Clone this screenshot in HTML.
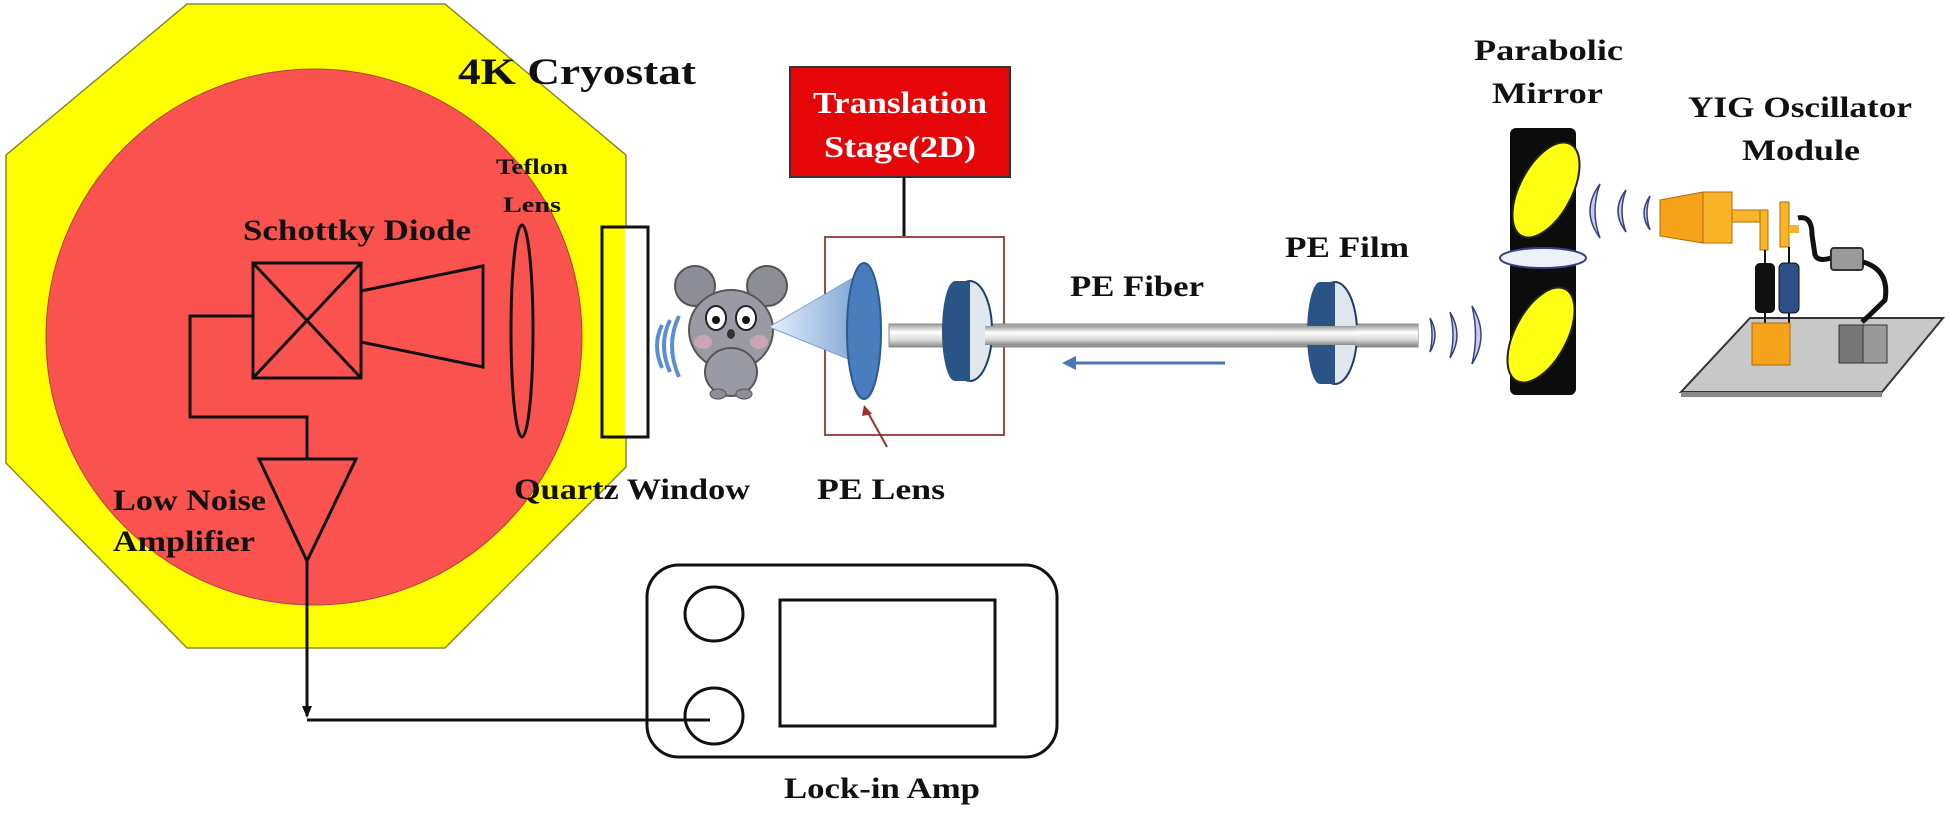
<!DOCTYPE html>
<html><head><meta charset="utf-8"><style>
html,body{margin:0;padding:0;background:#fff;}
svg{display:block;}
text{font-family:"Liberation Serif",serif;font-weight:bold;fill:#111;}
</style></head><body>
<svg width="1950" height="813" viewBox="0 0 1950 813" xmlns="http://www.w3.org/2000/svg">
<defs>
<linearGradient id="rod" x1="0" y1="0" x2="0" y2="1">
<stop offset="0" stop-color="#9a9a9a"/><stop offset="0.35" stop-color="#ffffff"/><stop offset="0.7" stop-color="#d8d8d8"/><stop offset="1" stop-color="#8a8a8a"/>
</linearGradient>
<linearGradient id="cone" x1="0" y1="0" x2="1" y2="0">
<stop offset="0" stop-color="#e8f0fa"/><stop offset="1" stop-color="#7ea6d6"/>
</linearGradient>
</defs>

<!-- Cryostat -->
<polygon points="187,4 445,4 626,155 626,467 445,648 187,648 6,463 6,155" fill="#ffff00" stroke="#8a8a30" stroke-width="1.5"/>
<circle cx="314" cy="337" r="268" fill="#f9524f" stroke="#b04040" stroke-width="1"/>
<text x="458" y="84" font-size="37" textLength="238" lengthAdjust="spacingAndGlyphs">4K Cryostat</text>

<text x="496" y="174" font-size="22" textLength="72" lengthAdjust="spacingAndGlyphs">Teflon</text>
<text x="503" y="212" font-size="22" textLength="58" lengthAdjust="spacingAndGlyphs">Lens</text>
<text x="243" y="240" font-size="30" textLength="228" lengthAdjust="spacingAndGlyphs">Schottky Diode</text>

<g stroke="#111" stroke-width="3" fill="none">
<rect x="253" y="263" width="108" height="115"/>
<line x1="253" y1="263" x2="361" y2="378"/><line x1="361" y1="263" x2="253" y2="378"/>
<polygon points="361,291 483,266 483,367 361,342"/>
<ellipse cx="522" cy="331" rx="11" ry="106"/>
<polyline points="253,316 190,316 190,417 307,417 307,459"/>
<polygon points="259,459 356,459 307,561"/>
<polyline points="307,561 307,716"/>
<polyline points="307,720 710,720"/>
</g>
<polygon points="302,706 312,706 307,718" fill="#111"/>
<rect x="602" y="227" width="46" height="210" fill="#fff" stroke="#111" stroke-width="3"/>
<rect x="602" y="227" width="23" height="210" fill="#ffff00" stroke="none"/>
<rect x="602" y="227" width="46" height="210" fill="none" stroke="#111" stroke-width="3"/>

<text x="113" y="510" font-size="30" textLength="153" lengthAdjust="spacingAndGlyphs">Low Noise</text>
<text x="113" y="551" font-size="30" textLength="142" lengthAdjust="spacingAndGlyphs">Amplifier</text>
<text x="514" y="499" font-size="30" textLength="236" lengthAdjust="spacingAndGlyphs">Quartz Window</text>
<text x="817" y="499" font-size="30" textLength="128" lengthAdjust="spacingAndGlyphs">PE Lens</text>

<!-- Lock-in amp -->
<g stroke="#111" stroke-width="3" fill="none">
<rect x="647" y="565" width="410" height="192" rx="32"/>
<ellipse cx="714" cy="614" rx="29" ry="27"/>
<ellipse cx="714" cy="716" rx="29" ry="28"/>
<rect x="780" y="600" width="215" height="126"/>
</g>
<text x="784" y="798" font-size="30" textLength="196" lengthAdjust="spacingAndGlyphs">Lock-in Amp</text>

<!-- Translation stage -->
<rect x="790" y="67" width="220" height="110" fill="#e5060a" stroke="#333" stroke-width="2"/>
<text x="900" y="113" font-size="31" fill="#fff" style="fill:#fff" text-anchor="middle" textLength="174" lengthAdjust="spacingAndGlyphs">Translation</text>
<text x="900" y="157" font-size="31" style="fill:#fff" text-anchor="middle" textLength="152" lengthAdjust="spacingAndGlyphs">Stage(2D)</text>
<line x1="904" y1="177" x2="904" y2="237" stroke="#111" stroke-width="3"/>
<rect x="825" y="237" width="179" height="198" fill="none" stroke="#9b4a4a" stroke-width="2"/>

<!-- waves near quartz -->
<g fill="none" stroke="#5b8fd0" stroke-width="4">
<path d="M662,325 Q652,345 662,368"/><path d="M670,320 Q658,345 670,372"/><path d="M679,316 Q665,345 679,377"/>
</g>
<!-- koala -->
<g>
<ellipse cx="695" cy="286" rx="20" ry="20" fill="#8d8d98" stroke="#555" stroke-width="2"/>
<ellipse cx="767" cy="286" rx="20" ry="20" fill="#8d8d98" stroke="#555" stroke-width="2"/>
<ellipse cx="731" cy="330" rx="42" ry="40" fill="#9a9aa5" stroke="#555" stroke-width="2"/>
<ellipse cx="731" cy="372" rx="26" ry="24" fill="#9a9aa5" stroke="#555" stroke-width="2"/>
<ellipse cx="716" cy="318" rx="10" ry="12" fill="#fff" stroke="#222" stroke-width="2"/>
<ellipse cx="746" cy="318" rx="10" ry="12" fill="#fff" stroke="#222" stroke-width="2"/>
<circle cx="716" cy="320" r="4" fill="#111"/><circle cx="746" cy="320" r="4" fill="#111"/>
<ellipse cx="731" cy="334" rx="4" ry="5" fill="#333"/>
<ellipse cx="703" cy="342" rx="9" ry="7" fill="#c9a5b5"/><ellipse cx="759" cy="342" rx="9" ry="7" fill="#c9a5b5"/>
<ellipse cx="718" cy="394" rx="8" ry="5" fill="#8d8d98" stroke="#555"/><ellipse cx="744" cy="394" rx="8" ry="5" fill="#8d8d98" stroke="#555"/>
</g>
<!-- cone -->
<polygon points="769,327 858,275 858,363" fill="url(#cone)" stroke="#7aa0d0" stroke-width="1"/>
<!-- PE lens -->
<ellipse cx="864" cy="331" rx="17" ry="68" fill="#4a7dbd" stroke="#2d5a93" stroke-width="2"/>
<line x1="887" y1="447" x2="866" y2="409" stroke="#a03030" stroke-width="2"/>
<polygon points="864,405 872,414 862,416" fill="#a03030"/>

<!-- rod -->
<rect x="889" y="324" width="529" height="23" fill="url(#rod)" stroke="#888" stroke-width="1"/>
<!-- discs -->
<g>
<ellipse cx="970" cy="331" rx="22" ry="50" fill="#dfe6ee" stroke="#1f3f6a" stroke-width="2"/>
<rect x="955" y="281" width="15" height="100" fill="#2b5486"/>
<ellipse cx="955" cy="331" rx="13" ry="50" fill="#2b5486"/>
<ellipse cx="1335" cy="333" rx="22" ry="51" fill="#dfe6ee" stroke="#1f3f6a" stroke-width="2"/>
<rect x="1320" y="282" width="15" height="102" fill="#2b5486"/>
<ellipse cx="1320" cy="333" rx="13" ry="51" fill="#2b5486"/>
</g>
<rect x="985" y="326" width="433" height="19" fill="url(#rod)"/>
<rect x="1356" y="325" width="62" height="21" fill="url(#rod)"/>
<text x="1070" y="296" font-size="30" textLength="134" lengthAdjust="spacingAndGlyphs">PE Fiber</text>
<text x="1285" y="257" font-size="30" textLength="124" lengthAdjust="spacingAndGlyphs">PE Film</text>
<line x1="1072" y1="363" x2="1225" y2="363" stroke="#4a78b4" stroke-width="3"/>
<polygon points="1062,363 1076,356 1076,370" fill="#4a78b4"/>

<!-- waves near lower mirror -->
<g fill="#c9cbe8" stroke="#3a3f86" stroke-width="1.5">
<path d="M1430,318 Q1440,335 1430,352 Q1434,335 1430,318Z"/>
<path d="M1450,312 Q1464,335 1450,358 Q1456,335 1450,312Z"/>
<path d="M1472,306 Q1490,335 1472,364 Q1479,335 1472,306Z"/>
</g>
<!-- mirror post -->
<rect x="1510" y="128" width="66" height="267" rx="6" fill="#0c0c0c"/>
<ellipse cx="1546" cy="190" rx="26" ry="52" transform="rotate(28 1546 190)" fill="#ffff14" stroke="#222" stroke-width="2"/>
<ellipse cx="1541" cy="335" rx="26" ry="52" transform="rotate(28 1541 335)" fill="#ffff14" stroke="#222" stroke-width="2"/>
<ellipse cx="1543" cy="258" rx="43" ry="10" fill="#eef0fa" stroke="#3a3f86" stroke-width="2"/>
<rect x="1510" y="246" width="0" height="0"/>
<text x="1474" y="60" font-size="30" textLength="149" lengthAdjust="spacingAndGlyphs">Parabolic</text>
<text x="1492" y="103" font-size="30" textLength="111" lengthAdjust="spacingAndGlyphs">Mirror</text>
<text x="1688" y="117" font-size="30" textLength="224" lengthAdjust="spacingAndGlyphs">YIG Oscillator</text>
<text x="1742" y="160" font-size="30" textLength="118" lengthAdjust="spacingAndGlyphs">Module</text>

<!-- waves upper right -->
<g fill="#c9cbe8" stroke="#3a3f86" stroke-width="1.5">
<path d="M1600,184 Q1580,211 1600,238 Q1590,211 1600,184Z"/>
<path d="M1626,190 Q1610,211 1626,232 Q1618,211 1626,190Z"/>
<path d="M1650,196 Q1638,213 1650,230 Q1644,213 1650,196Z"/>
</g>
<!-- YIG module -->
<polygon points="1681,392 1750,318 1943,318 1882,392" fill="#c8c8c8" stroke="#333" stroke-width="2"/>
<polygon points="1681,392 1882,392 1882,397 1681,397" fill="#888"/>
<polygon points="1660,200 1703,192 1703,243 1660,236" fill="#f7a21b" stroke="#b36b00" stroke-width="1"/>
<rect x="1703" y="192" width="29" height="51" fill="#f9b52a" stroke="#b36b00" stroke-width="1"/>
<rect x="1732" y="210" width="36" height="12" fill="#f9b52a" stroke="#b36b00" stroke-width="1"/>
<rect x="1760" y="210" width="8" height="40" fill="#f9b52a" stroke="#b36b00" stroke-width="1"/>
<rect x="1780" y="202" width="9" height="45" fill="#f9b52a" stroke="#b36b00" stroke-width="1"/>
<rect x="1789" y="225" width="10" height="8" fill="#f9b52a"/>
<path d="M1798,218 Q1812,215 1812,235 L1815,255 Q1818,262 1831,258" fill="none" stroke="#111" stroke-width="5"/>
<rect x="1831" y="248" width="32" height="22" rx="3" fill="#9a9a9a" stroke="#333" stroke-width="2"/>
<path d="M1863,262 Q1890,270 1885,300 Q1870,315 1862,322" fill="none" stroke="#111" stroke-width="5"/>
<line x1="1765" y1="250" x2="1765" y2="330" stroke="#111" stroke-width="2"/>
<line x1="1789" y1="247" x2="1789" y2="330" stroke="#111" stroke-width="2"/>
<rect x="1755" y="263" width="20" height="50" rx="5" fill="#111"/>
<rect x="1779" y="263" width="20" height="50" rx="5" fill="#2b4f86" stroke="#111" stroke-width="1"/>
<rect x="1752" y="323" width="38" height="42" fill="#f7a21b" stroke="#b36b00" stroke-width="1"/>
<rect x="1839" y="325" width="24" height="38" fill="#777" stroke="#333" stroke-width="1"/>
<rect x="1863" y="325" width="24" height="38" fill="#999" stroke="#333" stroke-width="1"/>
</svg>
</body></html>
